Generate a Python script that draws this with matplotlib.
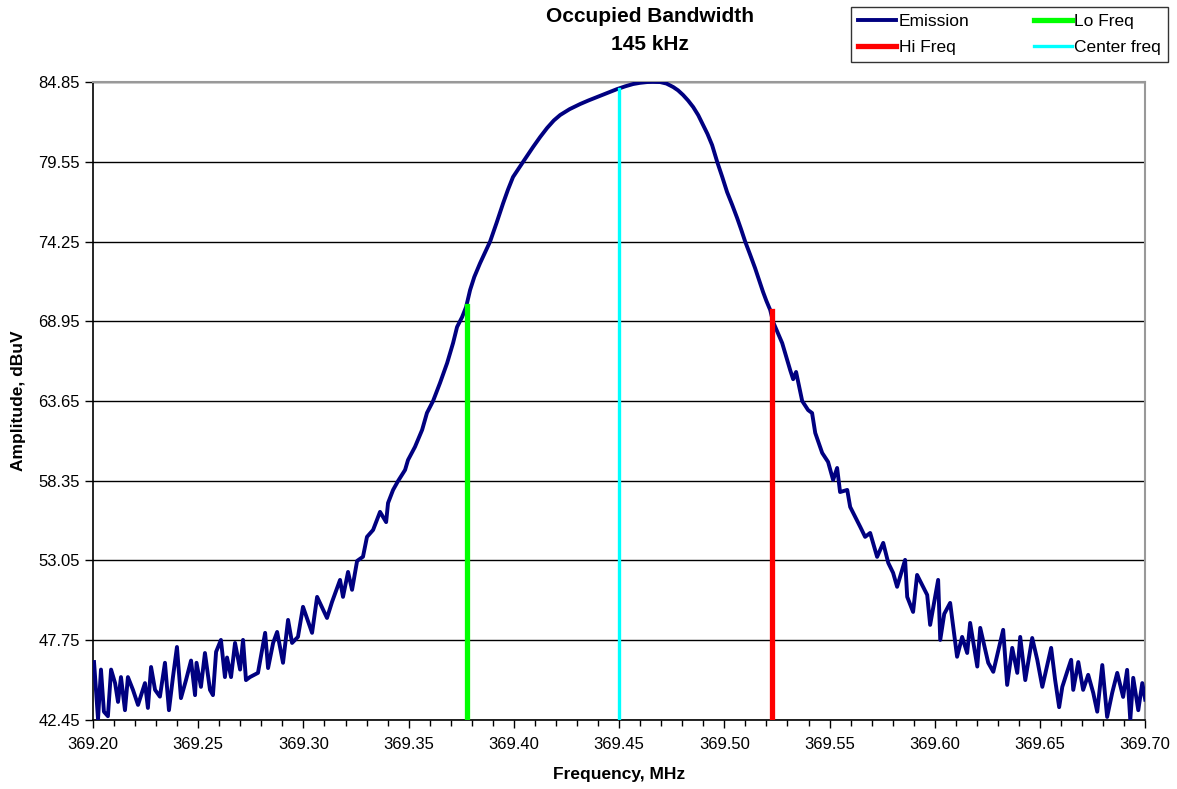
import numpy as np
import matplotlib
matplotlib.use("Agg")
import matplotlib.pyplot as plt
from matplotlib.ticker import MultipleLocator, FormatStrFormatter

plt.rcParams['font.family'] = ['Liberation Sans', 'DejaVu Sans']

# --- emission trace (MHz, dBuV) ---
freq_mhz = [
    369.2005, 369.2024, 369.2038, 369.2052, 369.2071, 369.2086, 369.2105, 369.2119,
    369.2133, 369.2152, 369.2166, 369.2190, 369.2214, 369.2247, 369.2261, 369.2276,
    369.2295, 369.2318, 369.2342, 369.2361, 369.2380, 369.2399, 369.2418, 369.2442,
    369.2466, 369.2485, 369.2492, 369.2513, 369.2532, 369.2556, 369.2570, 369.2585,
    369.2608, 369.2627, 369.2637, 369.2656, 369.2675, 369.2699, 369.2713, 369.2727,
    369.2746, 369.2784, 369.2818, 369.2832, 369.2856, 369.2875, 369.2903, 369.2927,
    369.2946, 369.2974, 369.2998, 369.3041, 369.3065, 369.3112, 369.3136, 369.3174,
    369.3188, 369.3212, 369.3231, 369.3255, 369.3283, 369.3302, 369.3331, 369.3364,
    369.3393, 369.3402, 369.3426, 369.3450, 369.3483, 369.3497, 369.3530, 369.3564,
    369.3587, 369.3616, 369.3649, 369.3683, 369.3711, 369.3730, 369.3754, 369.3773,
    369.3792, 369.3812, 369.3839, 369.3862, 369.3887, 369.3918, 369.3949, 369.3972,
    369.3996, 369.4020, 369.4044, 369.4068, 369.4091, 369.4125, 369.4158, 369.4190,
    369.4220, 369.4265, 369.4315, 369.4355, 369.4395, 369.4440, 369.4490, 369.4530,
    369.4567, 369.4600, 369.4633, 369.4660, 369.4695, 369.4725, 369.4757, 369.4780,
    369.4804, 369.4828, 369.4852, 369.4876, 369.4899, 369.4920, 369.4942, 369.4966,
    369.4990, 369.5013, 369.5037, 369.5061, 369.5080, 369.5099, 369.5122, 369.5146,
    369.5165, 369.5184, 369.5200, 369.5218, 369.5232, 369.5275, 369.5313, 369.5327,
    369.5341, 369.5370, 369.5398, 369.5417, 369.5432, 369.5465, 369.5493, 369.5517,
    369.5536, 369.5550, 369.5584, 369.5598, 369.5646, 369.5669, 369.5693, 369.5726,
    369.5755, 369.5779, 369.5802, 369.5821, 369.5859, 369.5869, 369.5897, 369.5916,
    369.5964, 369.5978, 369.6016, 369.6026, 369.6045, 369.6073, 369.6106, 369.6130,
    369.6154, 369.6168, 369.6202, 369.6216, 369.6254, 369.6278, 369.6325, 369.6344,
    369.6368, 369.6392, 369.6406, 369.6430, 369.6463, 369.6487, 369.6511, 369.6553,
    369.6572, 369.6591, 369.6606, 369.6629, 369.6648, 369.6658, 369.6682, 369.6705,
    369.6729, 369.6753, 369.6772, 369.6796, 369.6819, 369.6843, 369.6867, 369.6895,
    369.6914, 369.6929, 369.6943, 369.6967, 369.6986, 369.7000,
]
amp_dbuv = [
    46.30, 42.50, 45.80, 43.00, 42.70, 45.80, 44.90, 43.65,
    45.30, 43.10, 45.30, 44.45, 43.45, 44.90, 43.25, 45.97,
    44.45, 44.00, 46.25, 43.10, 45.30, 47.30, 43.90, 45.10,
    46.40, 44.10, 46.25, 44.65, 46.90, 44.45, 44.10, 46.98,
    47.77, 45.30, 46.60, 45.30, 47.57, 45.80, 47.77, 45.10,
    45.30, 45.58, 48.24, 45.90, 47.57, 48.30, 46.25, 49.10,
    47.57, 47.97, 49.97, 48.24, 50.63, 49.23, 50.30, 51.76,
    50.63, 52.29, 51.10, 53.02, 53.30, 54.62, 55.08, 56.28,
    55.60, 56.87, 57.74, 58.34, 59.07, 59.73, 60.60, 61.73,
    62.86, 63.65, 64.85, 66.18, 67.50, 68.57, 69.23, 69.90,
    71.03, 71.90, 72.80, 73.50, 74.25, 75.50, 76.80, 77.70,
    78.54, 79.05, 79.55, 80.05, 80.53, 81.20, 81.80, 82.30,
    82.66, 83.05, 83.39, 83.63, 83.85, 84.10, 84.38, 84.57,
    84.72, 84.80, 84.85, 84.86, 84.85, 84.75, 84.52, 84.30,
    83.99, 83.62, 83.19, 82.65, 82.00, 81.40, 80.66, 79.55,
    78.55, 77.54, 76.70, 75.81, 75.05, 74.25, 73.40, 72.49,
    71.70, 70.90, 70.30, 69.70, 68.90, 67.50, 65.70, 65.10,
    65.58, 63.65, 63.05, 62.85, 61.53, 60.20, 59.60, 58.40,
    59.20, 57.60, 57.74, 56.61, 55.28, 54.62, 54.88, 53.29,
    54.22, 52.89, 52.23, 51.30, 53.09, 50.63, 49.63, 52.09,
    50.76, 48.77, 51.76, 47.77, 49.50, 50.23, 46.65, 47.97,
    46.90, 48.90, 46.00, 48.57, 46.25, 45.65, 48.44, 44.78,
    47.24, 45.58, 47.97, 45.10, 47.90, 46.45, 44.65, 47.24,
    45.10, 43.30, 44.65, 45.65, 46.45, 44.45, 46.30, 44.45,
    45.45, 44.25, 43.00, 46.10, 42.65, 44.25, 45.58, 43.98,
    45.78, 42.45, 45.25, 43.10, 44.90, 43.80,
]

# occupied bandwidth markers (MHz, top in dBuV)
lo_freq, lo_top = 369.3775, 69.95
hi_freq, hi_top = 369.5225, 69.60
center_freq, center_top = 369.4500, 84.38

y_min, y_max, y_step = 42.45, 84.85, 5.30
x_min, x_max = 369.20, 369.70

fig = plt.figure(figsize=(11.77, 7.89), dpi=100)
ax = fig.add_axes([0.079, 0.0875, 0.894, 0.8085])

ax.plot(freq_mhz, amp_dbuv, color='#000080', lw=2.8, label='Emission', zorder=3,
        solid_joinstyle='round')
ax.plot([lo_freq, lo_freq], [y_min, lo_top], color='#00FF00', lw=3.8, label='Lo Freq', zorder=4)
ax.plot([hi_freq, hi_freq], [y_min, hi_top], color='#FF0000', lw=3.8, label='Hi Freq', zorder=4)
ax.plot([center_freq, center_freq], [y_min, center_top], color='#00FFFF', lw=2.4,
        label='Center freq', zorder=4)

ax.set_xlim(x_min, x_max)
ax.set_ylim(y_min, y_max)
ax.set_yticks(np.round(np.arange(y_min, y_max + 0.01, y_step), 2))
ax.yaxis.set_major_formatter(FormatStrFormatter('%.2f'))
ax.xaxis.set_major_locator(MultipleLocator(0.05))
ax.xaxis.set_minor_locator(MultipleLocator(0.01))
ax.xaxis.set_major_formatter(FormatStrFormatter('%.2f'))
ax.tick_params(axis='both', which='major', direction='out', length=6, width=1,
               labelsize=12, color='black')
ax.tick_params(axis='x', which='minor', direction='out', length=4, width=1)
ax.tick_params(axis='x', pad=6)

ax.grid(axis='y', color='black', lw=1)
ax.set_axisbelow(True)
for side in ('top', 'right'):
    ax.spines[side].set_color('#999999')
    ax.spines[side].set_linewidth(1.5)
for side in ('left', 'bottom'):
    ax.spines[side].set_color('black')
    ax.spines[side].set_linewidth(1.2)

ax.set_xlabel('Frequency, MHz', fontsize=12.5, fontweight='bold', labelpad=11)
ax.set_ylabel('Amplitude, dBuV', fontsize=12.5, fontweight='bold', labelpad=9)

fig.text(0.552, 0.961, 'Occupied Bandwidth\n145 kHz', ha='center', va='center',
         fontsize=15, fontweight='bold', linespacing=1.6)

h, l = ax.get_legend_handles_labels()
order = [0, 2, 1, 3]
leg = fig.legend([h[i] for i in order], [l[i] for i in order], ncol=2,
                 loc='upper right', bbox_to_anchor=(0.9924, 0.991), borderaxespad=0,
                 fontsize=12.5, frameon=True, fancybox=False, edgecolor='black',
                 handlelength=2.2, handletextpad=0.15, columnspacing=3.7,
                 borderpad=0.4, labelspacing=0.62)
leg.get_frame().set_linewidth(1.0)

fig.savefig('out.png', dpi=100)
